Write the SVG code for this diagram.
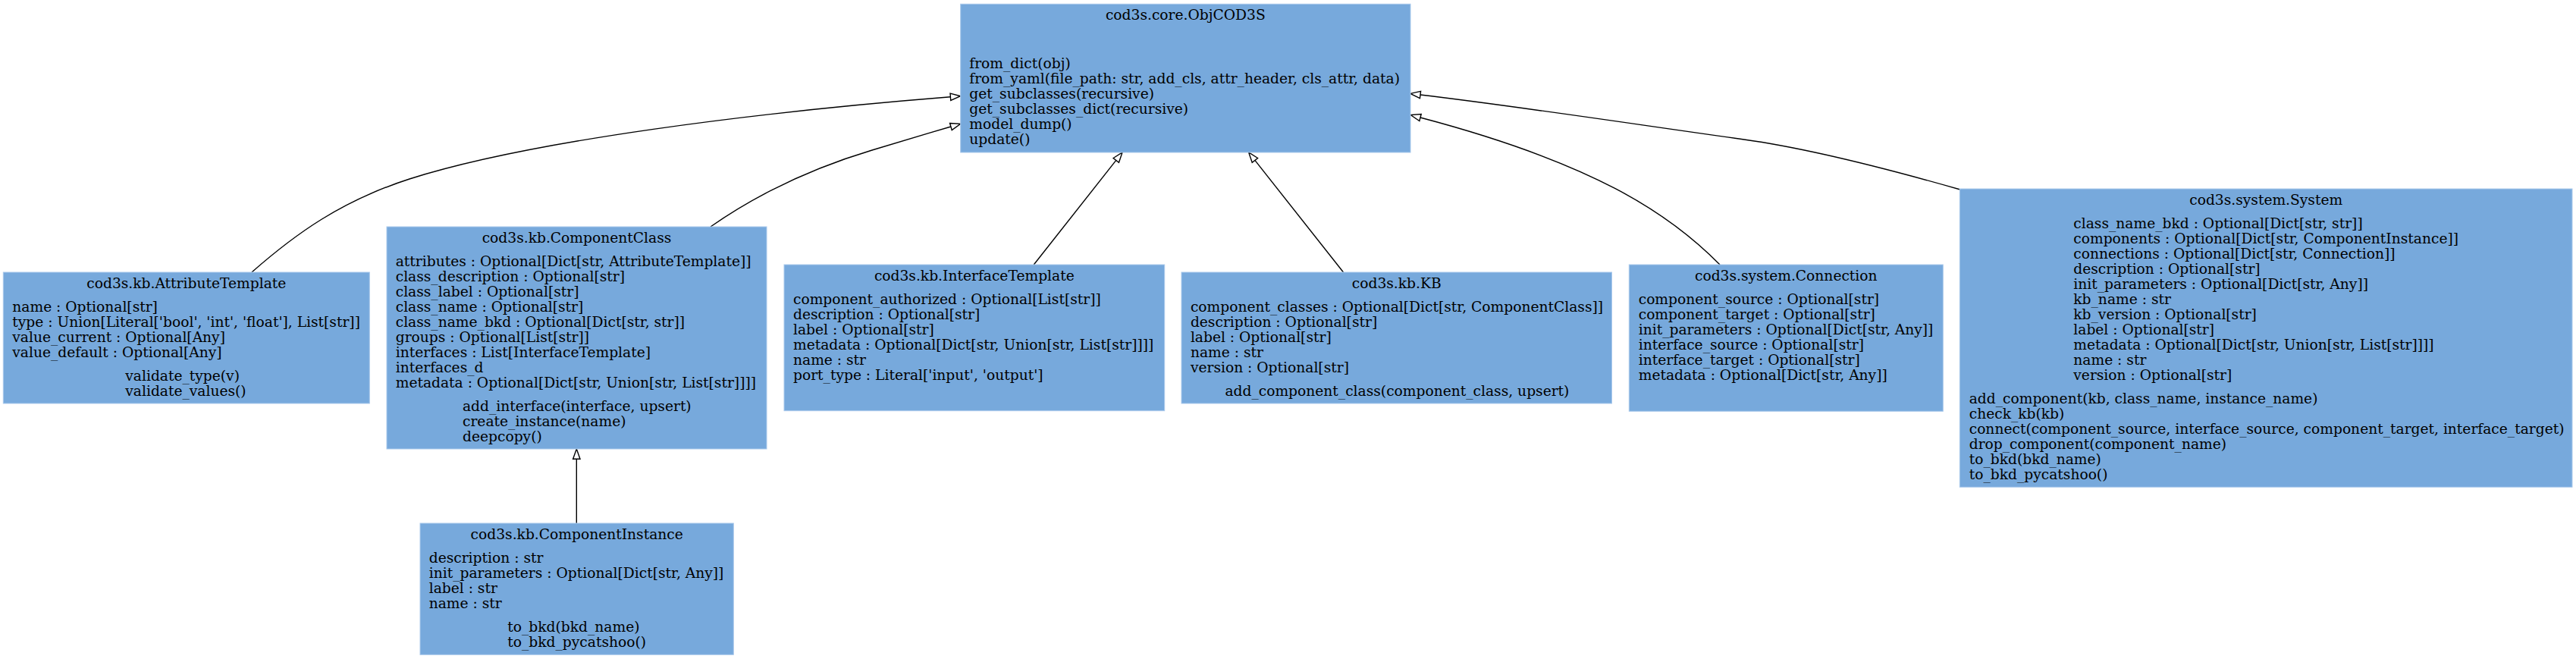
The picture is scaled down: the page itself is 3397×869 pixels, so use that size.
<svg xmlns="http://www.w3.org/2000/svg" width="3397" height="869" viewBox="0 0 3397 869">
<style>
  .box { fill: #77a9dc; stroke: #a9c9ec; stroke-width: 1; }
  text { font-family: "DejaVu Serif", "Liberation Serif", serif; font-size: 18.67px; fill: #000; }
  .t { text-anchor: middle; }
  .edge { fill: none; stroke: #000; stroke-width: 1.4; }
</style>
<defs>
  <marker id="inh" markerUnits="userSpaceOnUse" viewBox="0 0 13.3 9.4" refX="0" refY="4.7" markerWidth="13.3" markerHeight="9.4" orient="auto" overflow="visible">
    <polygon points="0,0 13.3,4.7 0,9.4" fill="#fff" stroke="#000" stroke-width="1.4"/>
  </marker>
</defs>
<rect width="3397" height="869" fill="#fff"/>

<g id="connectors">
  <path class="edge" marker-end="url(#inh)" d="M332,359 C390,308 450,265 540,236 C700,185 1000,148 1253.4,127.8"/>
  <path class="edge" marker-end="url(#inh)" d="M937,299 C990,262 1060,225 1150,198 C1190,186 1220,177 1253.9,167"/>
  <path class="edge" marker-end="url(#inh)" d="M1363.3,349 L1471.8,211.4"/>
  <path class="edge" marker-end="url(#inh)" d="M1771.5,359 L1654.9,211.4"/>
  <path class="edge" marker-end="url(#inh)" d="M2268,349 C2200,280 2100,215 1873,155"/>
  <path class="edge" marker-end="url(#inh)" d="M2585,250 C2480,220 2380,195 2300,184 C2150,163 2000,140 1873,125"/>
  <path class="edge" marker-end="url(#inh)" d="M760.3,690 L760.3,605.3"/>
</g>

<g id="ObjCOD3S">
  <rect class="box" x="1266.7" y="5.3" width="593.3" height="195.7"/>
  <text class="t" x="1563.3" y="26">cod3s.core.ObjCOD3S</text>
  <text x="1278.3" y="90">from_dict(obj)</text>
  <text x="1278.3" y="110">from_yaml(file_path: str, add_cls, attr_header, cls_attr, data)</text>
  <text x="1278.3" y="130">get_subclasses(recursive)</text>
  <text x="1278.3" y="150">get_subclasses_dict(recursive)</text>
  <text x="1278.3" y="170">model_dump()</text>
  <text x="1278.3" y="190">update()</text>
</g>

<g id="AttributeTemplate">
  <rect class="box" x="4.3" y="359" width="483" height="173"/>
  <text class="t" x="245.8" y="380">cod3s.kb.AttributeTemplate</text>
  <text x="16.3" y="411">name : Optional[str]</text>
  <text x="16.3" y="431">type : Union[Literal['bool', 'int', 'float'], List[str]]</text>
  <text x="16.3" y="451">value_current : Optional[Any]</text>
  <text x="16.3" y="471">value_default : Optional[Any]</text>
  <text x="165.3" y="501.7">validate_type(v)</text>
  <text x="165.3" y="521.7">validate_values()</text>
</g>

<g id="ComponentClass">
  <rect class="box" x="510" y="299" width="501" height="293"/>
  <text class="t" x="760.5" y="320">cod3s.kb.ComponentClass</text>
  <text x="521.7" y="351">attributes : Optional[Dict[str, AttributeTemplate]]</text>
  <text x="521.7" y="371">class_description : Optional[str]</text>
  <text x="521.7" y="391">class_label : Optional[str]</text>
  <text x="521.7" y="411">class_name : Optional[str]</text>
  <text x="521.7" y="431">class_name_bkd : Optional[Dict[str, str]]</text>
  <text x="521.7" y="451">groups : Optional[List[str]]</text>
  <text x="521.7" y="471">interfaces : List[InterfaceTemplate]</text>
  <text x="521.7" y="491">interfaces_d</text>
  <text x="521.7" y="511">metadata : Optional[Dict[str, Union[str, List[str]]]]</text>
  <text x="610" y="541.7">add_interface(interface, upsert)</text>
  <text x="610" y="561.7">create_instance(name)</text>
  <text x="610" y="581.7">deepcopy()</text>
</g>

<g id="ComponentInstance">
  <rect class="box" x="554" y="690" width="413.3" height="173.3"/>
  <text class="t" x="760.7" y="711">cod3s.kb.ComponentInstance</text>
  <text x="565.7" y="742">description : str</text>
  <text x="565.7" y="762">init_parameters : Optional[Dict[str, Any]]</text>
  <text x="565.7" y="782">label : str</text>
  <text x="565.7" y="802">name : str</text>
  <text x="669.3" y="832.7">to_bkd(bkd_name)</text>
  <text x="669.3" y="852.7">to_bkd_pycatshoo()</text>
</g>

<g id="InterfaceTemplate">
  <rect class="box" x="1034" y="349" width="501.7" height="192.7"/>
  <text class="t" x="1284.8" y="370">cod3s.kb.InterfaceTemplate</text>
  <text x="1046" y="401">component_authorized : Optional[List[str]]</text>
  <text x="1046" y="421">description : Optional[str]</text>
  <text x="1046" y="441">label : Optional[str]</text>
  <text x="1046" y="461">metadata : Optional[Dict[str, Union[str, List[str]]]]</text>
  <text x="1046" y="481">name : str</text>
  <text x="1046" y="501">port_type : Literal['input', 'output']</text>
</g>

<g id="KB">
  <rect class="box" x="1558" y="359" width="567.5" height="173"/>
  <text class="t" x="1841.7" y="380">cod3s.kb.KB</text>
  <text x="1569.9" y="411">component_classes : Optional[Dict[str, ComponentClass]]</text>
  <text x="1569.9" y="431">description : Optional[str]</text>
  <text x="1569.9" y="451">label : Optional[str]</text>
  <text x="1569.9" y="471">name : str</text>
  <text x="1569.9" y="491">version : Optional[str]</text>
  <text x="1615.4" y="521.7">add_component_class(component_class, upsert)</text>
</g>

<g id="Connection">
  <rect class="box" x="2148.3" y="349" width="414" height="193.3"/>
  <text class="t" x="2355.3" y="370">cod3s.system.Connection</text>
  <text x="2160.7" y="401">component_source : Optional[str]</text>
  <text x="2160.7" y="421">component_target : Optional[str]</text>
  <text x="2160.7" y="441">init_parameters : Optional[Dict[str, Any]]</text>
  <text x="2160.7" y="461">interface_source : Optional[str]</text>
  <text x="2160.7" y="481">interface_target : Optional[str]</text>
  <text x="2160.7" y="501">metadata : Optional[Dict[str, Any]]</text>
</g>

<g id="System">
  <rect class="box" x="2584.3" y="249" width="807.7" height="393.3"/>
  <text class="t" x="2988.2" y="270">cod3s.system.System</text>
  <text x="2734.3" y="301">class_name_bkd : Optional[Dict[str, str]]</text>
  <text x="2734.3" y="321">components : Optional[Dict[str, ComponentInstance]]</text>
  <text x="2734.3" y="341">connections : Optional[Dict[str, Connection]]</text>
  <text x="2734.3" y="361">description : Optional[str]</text>
  <text x="2734.3" y="381">init_parameters : Optional[Dict[str, Any]]</text>
  <text x="2734.3" y="401">kb_name : str</text>
  <text x="2734.3" y="421">kb_version : Optional[str]</text>
  <text x="2734.3" y="441">label : Optional[str]</text>
  <text x="2734.3" y="461">metadata : Optional[Dict[str, Union[str, List[str]]]]</text>
  <text x="2734.3" y="481">name : str</text>
  <text x="2734.3" y="501">version : Optional[str]</text>
  <text x="2596.7" y="531.7">add_component(kb, class_name, instance_name)</text>
  <text x="2596.7" y="551.7">check_kb(kb)</text>
  <text x="2596.7" y="571.7">connect(component_source, interface_source, component_target, interface_target)</text>
  <text x="2596.7" y="591.7">drop_component(component_name)</text>
  <text x="2596.7" y="611.7">to_bkd(bkd_name)</text>
  <text x="2596.7" y="631.7">to_bkd_pycatshoo()</text>
</g>
</svg>
